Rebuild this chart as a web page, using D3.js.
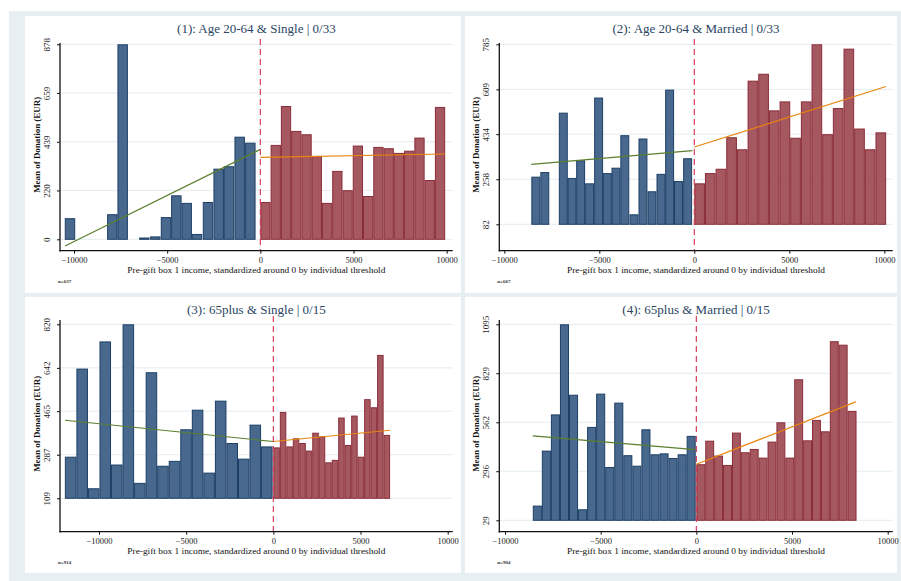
<!DOCTYPE html>
<html><head><meta charset="utf-8">
<script src="https://cdn.jsdelivr.net/npm/d3@7"></script>
<style>body{margin:0;background:#fff}svg{display:block}</style>
</head><body>
<svg id="c" width="901" height="581"></svg>
<script>
// ---------- DATA ----------
const titles = ["(1): Age 20-64 & Single | 0/33", "(2): Age 20-64 & Married | 0/33",
                "(3): 65plus & Single | 0/15", "(4): 65plus & Married | 0/15"];
const notes = ["n=637", "n=667", "n=914", "n=904"];
const xTicks = [-10000, -5000, 0, 5000, 10000];
const xTitle = "Pre-gift box 1 income, standardized around 0 by individual threshold";
const yTitle = "Mean of Donation (EUR)";

const yTicks1 = [0, 220, 439, 659, 878];
const yTicks2 = [82, 258, 434, 609, 785];
const yTicks3 = [109, 287, 465, 642, 820];
const yTicks4 = [29, 296, 562, 829, 1095];

// panel 1
const p1BlueX = [-10215, -7943, -7388, -6225, -5635, -5063, -4508, -3953, -3399, -2809, -2236, -1682, -1109, -537];
const p1BlueY = [95, 113, 878, 8, 13, 100, 198, 164, 24, 168, 318, 329, 462, 435];
const p1RedX = [275, 826, 1377, 1928, 2479, 3030, 3581, 4132, 4683, 5234, 5785, 6336, 6887, 7438, 7989, 8540, 9091, 9642];
const p1RedY = [168, 425, 600, 488, 473, 375, 164, 308, 221, 422, 195, 416, 410, 389, 399, 458, 267, 596];
const p1BinW = [560, 551];
const p1FitL = {x: [-10480, 0], y: [-30, 405]};
const p1FitR = {x: [0, 9918], y: [369, 384]};

// panel 2
const p2BlueX = [-8342, -7868, -6895, -6439, -5982, -5509, -5035, -4579, -4123, -3658, -3175, -2702, -2228, -1754, -1298, -833, -351];
const p2BlueY = [268, 286, 518, 263, 332, 242, 577, 282, 303, 430, 121, 417, 211, 279, 608, 251, 340];
const p2RedX = [280, 841, 1402, 1963, 2524, 3085, 3646, 4207, 4768, 5329, 5890, 6451, 7012, 7573, 8134, 8695, 9256, 9817];
const p2RedY = [242, 282, 299, 422, 375, 643, 670, 527, 562, 420, 562, 785, 434, 536, 768, 456, 375, 441];
const p2BinW = [470, 561];
const p2FitL = {x: [-8580, -105], y: [316, 370]};
const p2FitR = {x: [0, 10090], y: [384, 620]};

// panel 3
const p3BlueX = [-11627, -10965, -10303, -9641, -8979, -8317, -7655, -6993, -6331, -5669, -5007, -4345, -3683, -3021, -2359, -1697, -1035, -373];
const p3BlueY = [279, 639, 150, 750, 247, 820, 172, 624, 242, 262, 391, 471, 214, 508, 335, 271, 410, 321];
const p3RedX = [186, 558, 930, 1302, 1674, 2046, 2418, 2790, 3162, 3534, 3906, 4278, 4650, 5022, 5394, 5766, 6138, 6510];
const p3RedY = [317, 462, 321, 354, 335, 304, 377, 362, 256, 266, 439, 327, 447, 279, 514, 481, 695, 368];
const p3BinW = [662, 372];
const p3FitL = {x: [-11950, 0], y: [428, 341]};
const p3FitR = {x: [0, 6690], y: [341, 387]};

// panel 4
const p4BlueX = [-8311, -7838, -7365, -6892, -6419, -5946, -5473, -5000, -4527, -4054, -3581, -3108, -2635, -2162, -1689, -1216, -743, -270];
const p4BlueY = [109, 408, 605, 1095, 712, 89, 537, 718, 319, 669, 383, 326, 524, 388, 393, 368, 388, 488];
const p4RedX = [233, 698, 1163, 1628, 2093, 2558, 3023, 3488, 3953, 4418, 4883, 5348, 5813, 6278, 6743, 7208, 7673, 8138];
const p4RedY = [334, 462, 381, 330, 506, 399, 417, 370, 457, 562, 370, 796, 464, 575, 513, 1003, 984, 624];
const p4BinW = [473, 465];
const p4FitL = {x: [-8554, -52], y: [488, 413]};
const p4FitR = {x: [0, 8330], y: [334, 673]};

// ---------- LAYOUT ----------
const layouts = [
  {bg: [25, 16, 436, 277], L: 60, R: 452.7, T: 43, B: 250.7, xr: [74, 446.7], yr: [239.3, 44.3], tb: 33},
  {bg: [465, 16, 432, 277], L: 499.3, R: 892.7, T: 43, B: 250.7, xr: [504.3, 884.3], yr: [224.3, 44.3], tb: 33},
  {bg: [25, 297, 436, 276], L: 60, R: 452.7, T: 320, B: 531.7, xr: [99, 447.7], yr: [498.3, 324.3], tb: 314},
  {bg: [465, 297, 432, 276], L: 499.3, R: 892.7, T: 320, B: 531.7, xr: [505, 887.7], yr: [520.3, 324.3], tb: 314}
];
const panels = [
  {yTicks: yTicks1, bx: p1BlueX, by: p1BlueY, rx: p1RedX, ry: p1RedY, w: p1BinW, fl: p1FitL, fr: p1FitR},
  {yTicks: yTicks2, bx: p2BlueX, by: p2BlueY, rx: p2RedX, ry: p2RedY, w: p2BinW, fl: p2FitL, fr: p2FitR},
  {yTicks: yTicks3, bx: p3BlueX, by: p3BlueY, rx: p3RedX, ry: p3RedY, w: p3BinW, fl: p3FitL, fr: p3FitR},
  {yTicks: yTicks4, bx: p4BlueX, by: p4BlueY, rx: p4RedX, ry: p4RedY, w: p4BinW, fl: p4FitL, fr: p4FitR}
];

const FONT = "'Liberation Serif', 'Times New Roman', serif";
const svg = d3.select("#c");
svg.append("rect").attr("x", 9).attr("y", 11).attr("width", 892).attr("height", 570).attr("fill", "#e8eff2");

panels.forEach((p, i) => {
  const lay = layouts[i];
  const g = svg.append("g");
  g.append("rect").attr("x", lay.bg[0]).attr("y", lay.bg[1]).attr("width", lay.bg[2]).attr("height", lay.bg[3]).attr("fill", "#fff");

  const x = d3.scaleLinear().domain([xTicks[0], xTicks[xTicks.length - 1]]).range(lay.xr);
  const yMin = p.yTicks[0], yMax = p.yTicks[p.yTicks.length - 1];
  const y = d3.scaleLinear().domain([yMin, yMax]).range(lay.yr);

  // gridlines
  g.selectAll("line.grid").data(p.yTicks).join("line")
    .attr("x1", lay.L).attr("x2", lay.R)
    .attr("y1", d => y(d)).attr("y2", d => y(d))
    .attr("stroke", "#e4ecf0").attr("stroke-width", 1);

  // bars
  const drawBars = (xs, ys, w, fill, stroke) => {
    g.append("g").selectAll("rect").data(xs.map((c, k) => ({c, v: ys[k]}))).join("rect")
      .attr("x", d => x(d.c - w / 2) + 0.5)
      .attr("width", d => x(d.c + w / 2) - x(d.c - w / 2) - 1)
      .attr("y", d => y(d.v) + 0.5)
      .attr("height", d => y(yMin) - y(d.v) - 0.5)
      .attr("fill", fill).attr("stroke", stroke).attr("stroke-width", 1);
  };
  drawBars(p.bx, p.by, p.w[0], "#48698d", "#1d3f66");
  drawBars(p.rx, p.ry, p.w[1], "#a5585f", "#8a2c39");

  // fit lines
  const line = d3.line().x(d => x(d[0])).y(d => y(d[1]));
  g.append("path").attr("d", line(p.fl.x.map((v, k) => [v, p.fl.y[k]])))
    .attr("fill", "none").attr("stroke", "#5b7f2e").attr("stroke-width", 1.2);
  g.append("path").attr("d", line(p.fr.x.map((v, k) => [v, p.fr.y[k]])))
    .attr("fill", "none").attr("stroke", "#e8850f").attr("stroke-width", 1.2);

  // threshold dashed line
  g.append("line").attr("x1", x(0)).attr("x2", x(0)).attr("y1", lay.T - 4).attr("y2", lay.B)
    .attr("stroke", "#d8405f").attr("stroke-width", 1.2).attr("stroke-dasharray", "6,4");

  // y axis
  const ya = g.append("g").attr("transform", `translate(${lay.L},0)`)
    .call(d3.axisLeft(y).tickValues(p.yTicks).tickSize(3).tickSizeOuter(0).tickFormat(d3.format("d")));
  ya.select(".domain").remove();
  ya.selectAll("line").attr("stroke", "#111");
  ya.selectAll("text").attr("x", 0).attr("y", 0).attr("dy", 0)
    .attr("text-anchor", "middle").attr("transform", "translate(-10,0) rotate(-90)")
    .attr("font-family", FONT).attr("font-size", 9).attr("fill", "#222");
  g.append("line").attr("x1", lay.L).attr("x2", lay.L).attr("y1", lay.T).attr("y2", lay.B + 0.7)
    .attr("stroke", "#111").attr("stroke-width", 1.3);

  // x axis
  const xa = g.append("g").attr("transform", `translate(0,${lay.B})`)
    .call(d3.axisBottom(x).tickValues(xTicks).tickSize(3).tickSizeOuter(0).tickFormat(d3.format("d")));
  xa.select(".domain").remove();
  xa.selectAll("line").attr("stroke", "#111");
  xa.selectAll("text").attr("y", 6.5).attr("dy", "0.71em")
    .attr("font-family", FONT).attr("font-size", 8.5).attr("fill", "#222");
  g.append("line").attr("x1", lay.L - 0.6).attr("x2", lay.R).attr("y1", lay.B).attr("y2", lay.B)
    .attr("stroke", "#111").attr("stroke-width", 1.3);

  // titles
  const cx = (lay.L + lay.R) / 2;
  g.append("text").attr("x", cx).attr("y", lay.tb).attr("text-anchor", "middle")
    .attr("font-family", FONT).attr("font-size", 13).attr("fill", "#2a4563").text(titles[i]);
  g.append("text").attr("x", cx).attr("y", lay.B + 22).attr("text-anchor", "middle")
    .attr("font-family", FONT).attr("font-size", 8.5).attr("fill", "#111")
    .attr("textLength", 258).attr("lengthAdjust", "spacingAndGlyphs").text(xTitle);
  const cy = (lay.T + lay.B) / 2 - 2;
  g.append("text").attr("transform", `translate(${lay.L - 20},${cy}) rotate(-90)`)
    .attr("text-anchor", "middle").attr("font-family", FONT).attr("font-size", 8)
    .attr("font-weight", "bold").attr("fill", "#111")
    .attr("textLength", 96).attr("lengthAdjust", "spacingAndGlyphs").text(yTitle);
  g.append("text").attr("x", lay.L - 2).attr("y", lay.B + 32.5)
    .attr("font-family", FONT).attr("font-size", 5).attr("font-weight", "bold").attr("fill", "#333").text(notes[i]);
});
</script>
</body></html>
